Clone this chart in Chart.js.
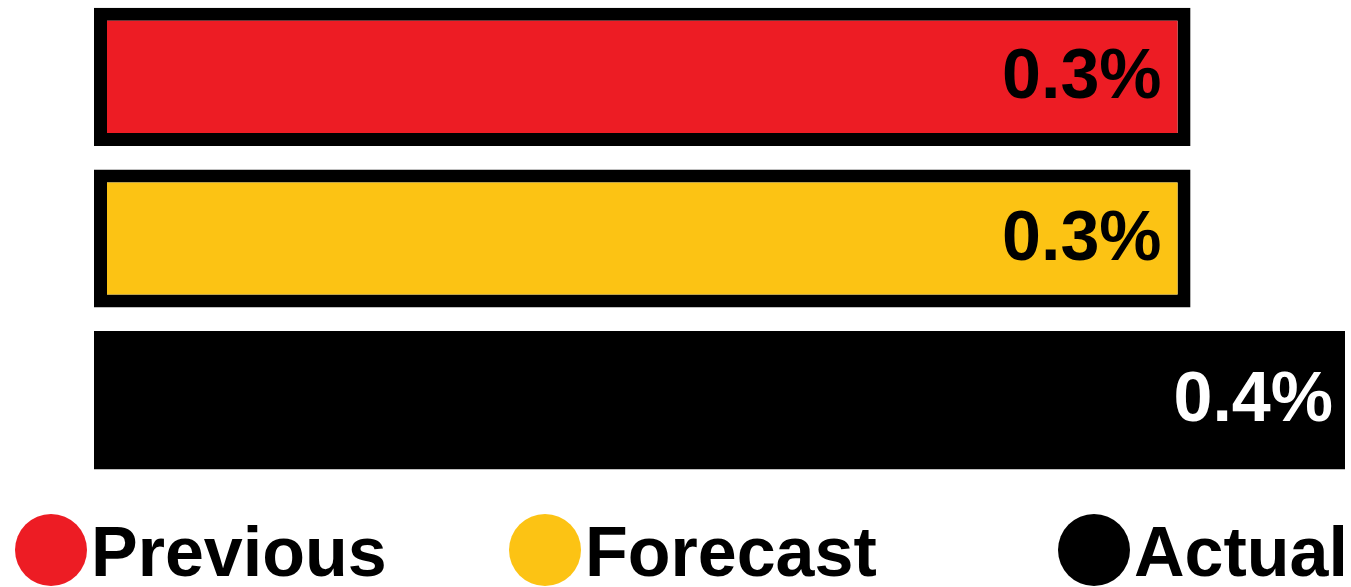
<!DOCTYPE html>
<html>
<head>
  <title>Previous / Forecast / Actual</title>
  <script src="https://cdn.jsdelivr.net/npm/chart.js@4"></script>
  <style>
    html, body {
      margin: 0;
      padding: 0;
      background: #ffffff;
      overflow: hidden;
    }
    #wrap {
      position: absolute;
      left: 0;
      top: -4px;
      width: 1351px;
      height: 485px;
    }
    .legend-item {
      position: absolute;
      top: 514px;
      height: 72px;
      display: flex;
      align-items: center;
      font-family: "Liberation Sans", Arial, sans-serif;
      font-weight: bold;
      font-size: 70px;
      color: #000;
    }
    .legend-dot {
      width: 72px;
      height: 72px;
      border-radius: 50%;
      margin-right: 4px;
      flex: none;
    }
    .legend-text {
      position: relative;
      top: 2px;
    }
  </style>
</head>
<body>
  <div id="wrap"><canvas id="barChart"></canvas></div>
  <div id="legend"></div>

  <script>
    // the three readings, top to bottom
    const categories = ['Previous', 'Forecast', 'Actual'];
    const values = [0.3, 0.3, 0.4];

    const barColors = ['#ED1C24', '#FCC314', '#000000'];
    const labelColors = ['#000000', '#000000', '#ffffff'];
    const borderWidths = [13, 13, 0];

    // value axis range; bars grow from the left edge of the axis
    const AXIS_MIN = -0.41;
    const AXIS_MAX = 0.4;

    // legend positions along the bottom row
    const legendLeft = [15, 509, 1058];

    // value text drawn inside the right end of every bar
    const valueLabels = {
      id: 'valueLabels',
      afterDatasetsDraw(chart) {
        const ctx = chart.ctx;
        const meta = chart.getDatasetMeta(0);
        ctx.save();
        ctx.font = 'bold 70px "Liberation Sans", Arial, sans-serif';
        ctx.textAlign = 'right';
        ctx.textBaseline = 'middle';
        meta.data.forEach((bar, i) => {
          const pad = borderWidths[i] ? borderWidths[i] + 16 : 12;
          ctx.fillStyle = labelColors[i];
          ctx.fillText(values[i].toFixed(1) + '%', bar.x - pad, bar.y + 2);
        });
        ctx.restore();
      }
    };

    new Chart(document.getElementById('barChart'), {
      type: 'bar',
      data: {
        labels: categories,
        datasets: [{
          data: values,
          base: AXIS_MIN,
          backgroundColor: barColors,
          borderColor: '#000000',
          borderWidth: borderWidths,
          borderSkipped: false,
          categoryPercentage: 1.0,
          barPercentage: 0.855
        }]
      },
      options: {
        indexAxis: 'y',
        responsive: true,
        maintainAspectRatio: false,
        animation: false,
        layout: { padding: { left: 94, right: 6, top: 0, bottom: 0 } },
        plugins: {
          legend: { display: false },
          tooltip: { enabled: false }
        },
        scales: {
          x: { display: false, min: AXIS_MIN, max: AXIS_MAX, grid: { display: false } },
          y: { display: false, grid: { display: false } }
        }
      },
      plugins: [valueLabels]
    });

    // legend row under the bars
    const legend = document.getElementById('legend');
    categories.forEach((name, i) => {
      const item = document.createElement('div');
      item.className = 'legend-item';
      item.style.left = legendLeft[i] + 'px';
      const dot = document.createElement('span');
      dot.className = 'legend-dot';
      dot.style.background = barColors[i];
      const text = document.createElement('span');
      text.className = 'legend-text';
      text.textContent = name;
      item.appendChild(dot);
      item.appendChild(text);
      legend.appendChild(item);
    });
  </script>
</body>
</html>
